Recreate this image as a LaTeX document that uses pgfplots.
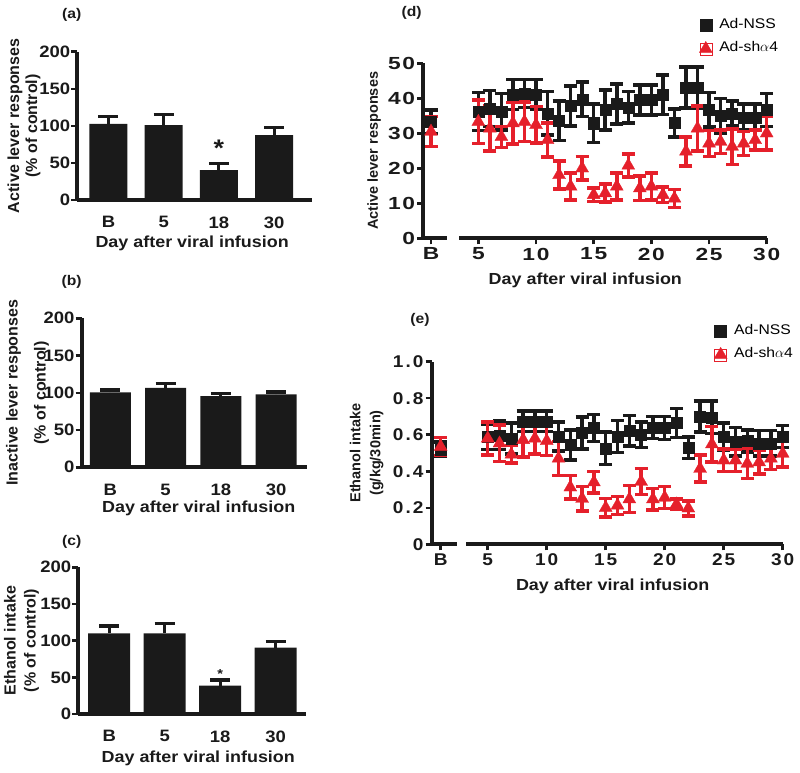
\documentclass[border=0pt]{standalone}
\usepackage{fontspec}
\setmainfont{Liberation Sans}[FakeStretch=1.12]
\newfontfamily\vfont{Liberation Sans}
\newfontfamily\dfont{Liberation Sans}[FakeStretch=1.3, LetterSpace=10]
\newfontfamily\efont{Liberation Sans}[FakeStretch=1.12, LetterSpace=12]
\usepackage{pgfplots}
\usepackage{pgfplotstable}
\pgfplotsset{compat=1.18}
\definecolor{barcol}{HTML}{1A1A1A}
\definecolor{nss}{HTML}{1A1A1A}
\definecolor{sha}{HTML}{E5202B}

\pgfplotstableread{
x y e
0 102.5 9.9
1 101 14.5
2 40.4 9
3 87.6 10.4
}\tabA
\pgfplotstableread{
x y e
0 100.7 3.1
1 106.5 6.3
2 95.7 3.2
3 98 3.1
}\tabB
\pgfplotstableread{
x y e
0 110 10
1 110 13.6
2 38.6 7.8
3 90.5 8.1
}\tabC
% panel (d): active lever responses
\pgfplotstableread{
x y e
5 36.2 5.4
6 37.1 5.1
7 36.2 5.2
8 41.1 4.3
9 41.4 4.0
10 41.1 4.3
11 35.7 6.2
12 33.6 5.7
13 37.8 5.7
14 39.7 4.9
15 32.9 5.5
16 36.7 5.7
17 38.4 5.7
18 37.4 4.5
19 39.5 4.3
20 39.5 4.3
21 41.0 5.7
22 33.0 4.0
23 43.1 5.8
24 43.1 5.8
25 36.7 4.9
26 35.0 4.9
27 35.7 3.6
28 34.6 3.7
29 34.6 3.7
30 36.7 4.7
}\tabDn
\pgfplotstableread{
x y e
5 33.3 6.2
6 31.4 6.4
7 29.0 3.0
8 32.9 5.9
9 33.3 5.7
10 32.4 5.2
11 28.1 4.9
12 18.1 4.0
13 14.8 3.8
14 20.0 3.3
15 12.4 1.9
16 12.9 2.6
17 14.8 3.8
18 20.8 3.3
19 14.3 3.5
20 14.8 3.8
21 12.4 2.2
22 11.4 2.6
23 24.8 4.1
24 31.4 6.4
25 27.1 3.7
26 27.6 3.4
27 26.2 5.1
28 27.1 3.4
29 28.1 2.9
30 30.0 4.8
}\tabDs
% panel (e): ethanol intake
\pgfplotstableread{
x y e
5 0.59 0.07
6 0.596 0.078
7 0.58 0.085
8 0.674 0.056
9 0.674 0.056
10 0.674 0.056
11 0.59 0.08
12 0.544 0.083
13 0.609 0.087
14 0.637 0.074
15 0.525 0.089
16 0.59 0.087
17 0.622 0.083
18 0.60 0.07
19 0.64 0.06
20 0.637 0.063
21 0.665 0.079
22 0.529 0.058
23 0.70 0.085
24 0.696 0.089
25 0.59 0.075
26 0.562 0.078
27 0.566 0.061
28 0.553 0.069
29 0.553 0.069
30 0.59 0.06
}\tabEn
\pgfplotstableread{
x y e
5 0.58 0.09
6 0.553 0.10
7 0.492 0.048
8 0.572 0.093
9 0.58 0.085
10 0.566 0.08
11 0.47 0.092
12 0.312 0.065
13 0.25 0.067
14 0.34 0.06
15 0.20 0.05
16 0.213 0.049
17 0.247 0.074
18 0.343 0.071
19 0.247 0.059
20 0.256 0.061
21 0.219 0.028
22 0.197 0.041
23 0.414 0.074
24 0.548 0.098
25 0.46 0.062
26 0.46 0.062
27 0.442 0.083
28 0.45 0.066
29 0.47 0.06
30 0.497 0.075
}\tabEs

\pgfplotsset{
  every axis/.append style={scale only axis, clip=false, anchor=south west,
    /pgf/number format/assume math mode=true},
  barpanel/.style={
    axis lines=left, axis line style={-, line width=3.8pt, draw=barcol},
    ymin=0, ymax=200, ytick={0,50,100,150,200},
    xtick={0,1,2,3}, xticklabels={B,5,18,30},
    xtick style={draw=none},
    ytick style={line width=2.5pt, draw=barcol},
    major tick length=6pt, tick align=outside,
    tick label style={font=\bfseries\fontsize{16.5}{18}\selectfont, text=barcol},
    yticklabel style={inner sep=1pt},
    xticklabel style={yshift=-7pt},
    xlabel={Day after viral infusion},
    xlabel style={anchor=center, font=\bfseries\fontsize{16}{18}\selectfont, text=barcol},
    ylabel style={anchor=center, align=center, text=barcol},
  },
  barplot/.style={ybar, fill=barcol, draw=none,
    error bars/.cd, y dir=plus, y explicit,
    error bar style={line width=3pt, barcol},
    error mark options={rotate=90, mark size=10pt, line width=3.5pt, barcol}},
  dpanel/.style={
    axis x line=bottom, axis line style={-, line width=3.8pt, draw=nss},
    tick align=outside, major tick length=6pt,
    tick style={line width=2.5pt, draw=nss},
    tick label style={text=nss},
  },
  nssplot/.style={only marks, mark=square*, mark size=5.5pt, color=nss,
    mark options={line width=0.3pt, draw=nss, fill=nss},
    error bars/.cd, y dir=both, y explicit,
    error bar style={line width=3.5pt, nss},
    error mark options={rotate=90, mark size=6.5pt, line width=3.5pt, nss}},
  shaplot/.style={only marks, mark=triangle*, mark size=7.5pt, color=sha,
    mark options={line width=0.3pt, draw=sha, fill=sha},
    error bars/.cd, y dir=both, y explicit,
    error bar style={line width=3.5pt, sha},
    error mark options={rotate=90, mark size=6.5pt, line width=3.5pt, sha}},
  mylegend/.style={
    legend style={draw=none, fill=none, inner sep=0pt, row sep=9.7pt,
      column sep=7pt, font=\fontsize{14}{14}\selectfont,
      nodes={inner sep=0pt, text height=9pt, text depth=3pt, anchor=west}},
    legend cell align=left,
    legend image code/.code={\path (-6pt,-6pt) rectangle (6pt,6pt);
      \draw[##1] plot coordinates {(0pt,0pt)};},
  },
}

\begin{document}
\begin{tikzpicture}
\useasboundingbox (0,0) rectangle (800pt,772pt);

% ---------------- (a)
\node[font=\bfseries\fontsize{14}{14}\selectfont, text=barcol] at (71.7pt,757pt) {(a)};
\begin{axis}[barpanel, at={(77.3pt,572pt)}, width=234.4pt, height=148.3pt,
  xmin=-0.564, xmax=3.68,
  ylabel={Active lever responses\\(\% of control)},
  ylabel style={at={(rel axis cs:-0.227,0.5)}, font=\vfont\bfseries\fontsize{16}{18}\selectfont},
  xlabel style={at={(rel axis cs:0.49,0)}, yshift=-43.3pt}]
\addplot[bar width=38pt, barplot] table[x=x, y=y, y error=e] {\tabA};
\node[font=\bfseries\fontsize{24}{24}\selectfont, text=barcol] at (axis cs:2,70) {*};
\end{axis}

% ---------------- (b)
\node[font=\bfseries\fontsize{14}{14}\selectfont, text=barcol] at (71.7pt,490.3pt) {(b)};
\begin{axis}[barpanel, at={(81.7pt,304.7pt)}, width=225pt, height=149pt,
  xmin=-0.517, xmax=3.552,
  ylabel={Inactive lever responses\\(\% of control)},
  ylabel style={at={(rel axis cs:-0.241,0.5)}, font=\vfont\bfseries\fontsize{16}{28}\selectfont},
  xlabel style={at={(rel axis cs:0.52,0)}, yshift=-41pt}]
\addplot[bar width=41pt, barplot] table[x=x, y=y, y error=e] {\tabB};
\end{axis}

% ---------------- (c)
\node[font=\bfseries\fontsize{14}{14}\selectfont, text=barcol] at (71.7pt,230.3pt) {(c)};
\begin{axis}[barpanel, at={(78.3pt,58pt)}, width=227.7pt, height=146.7pt,
  xmin=-0.557, xmax=3.546,
  ylabel={Ethanol intake\\(\% of control)},
  ylabel style={at={(rel axis cs:-0.249,0.5)}, font=\vfont\bfseries\fontsize{16}{20}\selectfont},
  xlabel style={at={(rel axis cs:0.527,0)}, yshift=-44.3pt}]
\addplot[bar width=42pt, barplot] table[x=x, y=y, y error=e] {\tabC};
\node[font=\bfseries\fontsize{13}{13}\selectfont, text=barcol] at (axis cs:2,54) {*};
\end{axis}

% ---------------- (d)
\node[font=\bfseries\fontsize{14}{14}\selectfont, text=nss] at (411.7pt,758.7pt) {(d)};
\begin{axis}[axis y line=left, dpanel, at={(423.3pt,533.7pt)}, width=23.4pt, height=175pt,
  y axis line style={-}, every outer y axis line/.append style={-},
  xmin=-0.67, xmax=1.36, ymin=0, ymax=50, ytick={0,10,...,50},
  xtick={0}, xticklabels={B},
  tick label style={font=\dfont\bfseries\fontsize{17.5}{17.5}\selectfont},
  yticklabel style={inner sep=2pt},
  ylabel={Active lever responses},
  ylabel style={at={(rel axis cs:-2.1,0.5)}, anchor=center,
    font=\vfont\bfseries\fontsize{14.5}{16}\selectfont, text=nss}]
\addplot[nssplot] coordinates {(0,33.3) +- (0,3.4)};
\addplot[shaplot] coordinates {(0,30.5) +- (0,4.3)};
\end{axis}
\begin{axis}[dpanel, mylegend, axis y line=none, at={(459.3pt,533.7pt)}, width=307.4pt, height=175pt,
  xmin=3.35, xmax=30, ymin=0, ymax=50, ytick=\empty,
  xtick={5,10,...,30},
  tick label style={font=\dfont\bfseries\fontsize{17.5}{17.5}\selectfont},
  xlabel={Day after viral infusion},
  xlabel style={at={(rel axis cs:0.41,0)}, anchor=center, yshift=-41.7pt,
    font=\bfseries\fontsize{16}{18}\selectfont, text=nss},
  legend style={at={(rel axis cs:0.780,1.253)}, anchor=north west}]
\addplot[nssplot] table[x=x, y=y, y error=e] {\tabDn};
\addlegendentry{Ad-NSS}
\addplot[shaplot] table[x=x, y=y, y error=e] {\tabDs};
\addlegendentry{Ad-sh$\alpha$4}
\end{axis}

% ---------------- (e)
\node[font=\bfseries\fontsize{14}{14}\selectfont, text=nss] at (420pt,452pt) {(e)};
\begin{axis}[axis y line=left, dpanel, at={(431.7pt,227.7pt)}, width=25pt, height=182.6pt,
  y axis line style={-}, every outer y axis line/.append style={-},
  xmin=-0.76, xmax=1.359, ymin=0, ymax=1.0, ytick={0,0.2,0.4,0.6,0.8,1.0},
  yticklabels={0,0.2,0.4,0.6,0.8,1.0},
  xtick={0}, xticklabels={B},
  tick label style={font=\efont\bfseries\fontsize{17}{17}\selectfont},
  yticklabel style={inner sep=2pt},
  ylabel={Ethanol intake\\(g/kg/30min)},
  ylabel style={at={(rel axis cs:-2.6,0.5)}, anchor=center, align=center,
    font=\vfont\bfseries\fontsize{14.5}{20}\selectfont, text=nss}]
\addplot[nssplot] coordinates {(0,0.52) +- (0,0.04)};
\addplot[shaplot] coordinates {(0,0.535) +- (0,0.05)};
\end{axis}
\begin{axis}[dpanel, mylegend, axis y line=none, at={(466pt,227.7pt)}, width=316.7pt, height=182.6pt,
  xmin=3.16, xmax=30, ymin=0, ymax=1.0, ytick=\empty,
  xtick={5,10,...,30},
  tick label style={font=\efont\bfseries\fontsize{17}{17}\selectfont},
  xlabel={Day after viral infusion},
  xlabel style={at={(rel axis cs:0.463,0)}, anchor=center, yshift=-42.4pt,
    font=\bfseries\fontsize{16}{18}\selectfont, text=nss},
  legend style={at={(rel axis cs:0.783,1.201)}, anchor=north west}]
\addplot[nssplot] table[x=x, y=y, y error=e] {\tabEn};
\addlegendentry{Ad-NSS}
\addplot[shaplot] table[x=x, y=y, y error=e] {\tabEs};
\addlegendentry{Ad-sh$\alpha$4}
\end{axis}
\end{tikzpicture}
\end{document}
